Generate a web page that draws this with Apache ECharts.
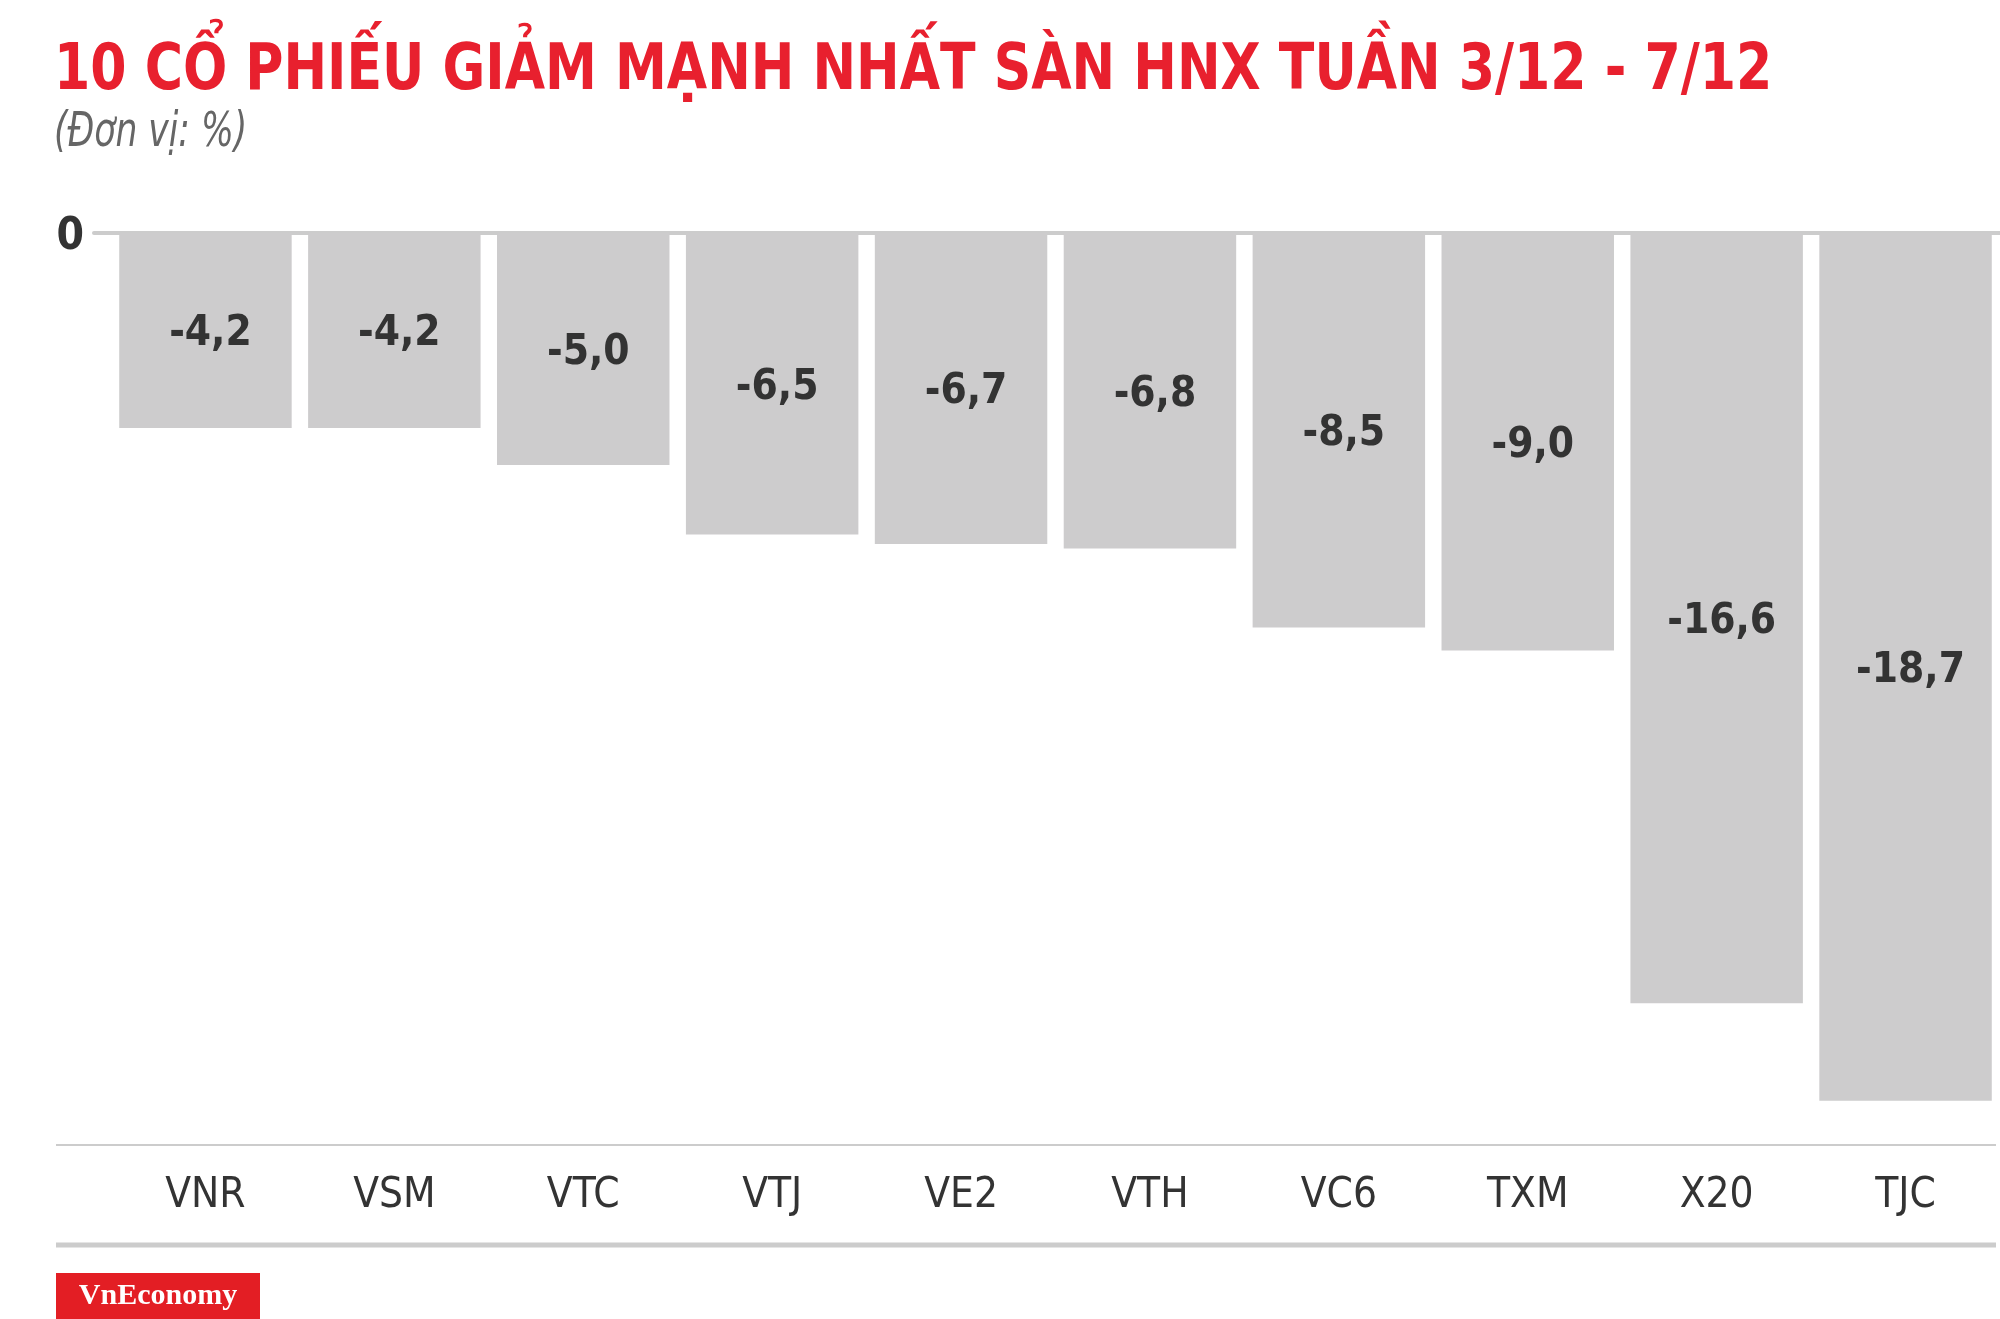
<!DOCTYPE html>
<html>
<head>
<meta charset="utf-8">
<script src="https://cdn.jsdelivr.net/npm/echarts@6/dist/echarts.min.js"></script>
<style>
html,body{margin:0;padding:0;background:#fff;}
#chart{width:2000px;height:1319px;}
</style>
</head>
<body>
<div id="chart"></div>
<script>
const titleText = '10 CỔ PHIẾU GIẢM MẠNH NHẤT SÀN HNX TUẦN 3/12 - 7/12';
const subtitleText = '(Đơn vị: %)';
const categories = ['VNR', 'VSM', 'VTC', 'VTJ', 'VE2', 'VTH', 'VC6', 'TXM', 'X20', 'TJC'];
const values = [-4.2, -4.2, -5.0, -6.5, -6.7, -6.8, -8.5, -9.0, -16.6, -18.7];
const logoText = 'VnEconomy';

const NARROW = "'DejaVu Sans Condensed', 'Liberation Sans Narrow', sans-serif";
const chart = echarts.init(document.getElementById('chart'), null, {renderer: 'canvas'});
chart.setOption({
  backgroundColor: '#ffffff',
  animation: false,
  grid: [
    {left: 111, width: 1894, top: 233, height: 928},
    {left: 94, right: 0, top: 233, height: 10}
  ],
  xAxis: [
    {gridIndex: 0, type: 'category', data: categories, position: 'bottom',
     axisLine: {show: false, onZero: false}, axisTick: {show: false},
     axisLabel: {color: '#333333', fontSize: 42, fontFamily: NARROW, margin: 14}},
    {gridIndex: 1, type: 'value', position: 'top',
     axisLine: {show: true, onZero: false, lineStyle: {color: '#cccccc', width: 4}},
     axisTick: {show: false}, axisLabel: {show: false}, splitLine: {show: false}}
  ],
  yAxis: [
    {gridIndex: 0, type: 'value', min: -20, max: 0, interval: 20,
     axisLine: {show: false}, axisTick: {show: false}, splitLine: {show: false},
     axisLabel: {margin: 27,
       formatter: v => (v === 0 ? '{z|0}' : ''),
       rich: {z: {color: '#333333', fontSize: 44, fontWeight: 'bold', fontFamily: NARROW, padding: [10, 0, 0, 0]}}}},
    {gridIndex: 1, type: 'value', show: false}
  ],
  series: [{
    type: 'bar', xAxisIndex: 0, yAxisIndex: 0, data: values,
    barCategoryGap: '8.7%',
    itemStyle: {color: '#cdcccd'},
    label: {show: true, position: 'inside', offset: [5, 4], color: '#333333', fontSize: 42, fontWeight: 'bold',
      fontFamily: NARROW, formatter: p => p.value.toFixed(1).replace('.', ',')}
  }],
  graphic: [
    {type: 'text', x: 54, y: 40, scaleX: 0.905,
     style: {text: titleText, fill: '#e8202e', font: "bold 64px 'DejaVu Sans Condensed', sans-serif",
       textAlign: 'left', textVerticalAlign: 'top'}},
    {type: 'text', x: 54, y: 110, scaleX: 0.8,
     style: {text: subtitleText, fill: '#666666', font: "italic 48px 'DejaVu Sans Condensed', sans-serif",
       textAlign: 'left', textVerticalAlign: 'top'}},
    {type: 'line', shape: {x1: 56, y1: 1145, x2: 1996, y2: 1145}, style: {stroke: '#cccccc', lineWidth: 2}},
    {type: 'line', shape: {x1: 56, y1: 1245, x2: 1996, y2: 1245}, style: {stroke: '#cccccc', lineWidth: 5}},
    {type: 'rect', shape: {x: 56, y: 1273, width: 204, height: 46}, style: {fill: '#e31e24'}},
    {type: 'text', x: 158, y: 1296, style: {text: logoText, fill: '#ffffff', font: "bold 30px 'Liberation Serif', serif",
      textAlign: 'center', textVerticalAlign: 'middle'}}
  ]
});
</script>
</body>
</html>
